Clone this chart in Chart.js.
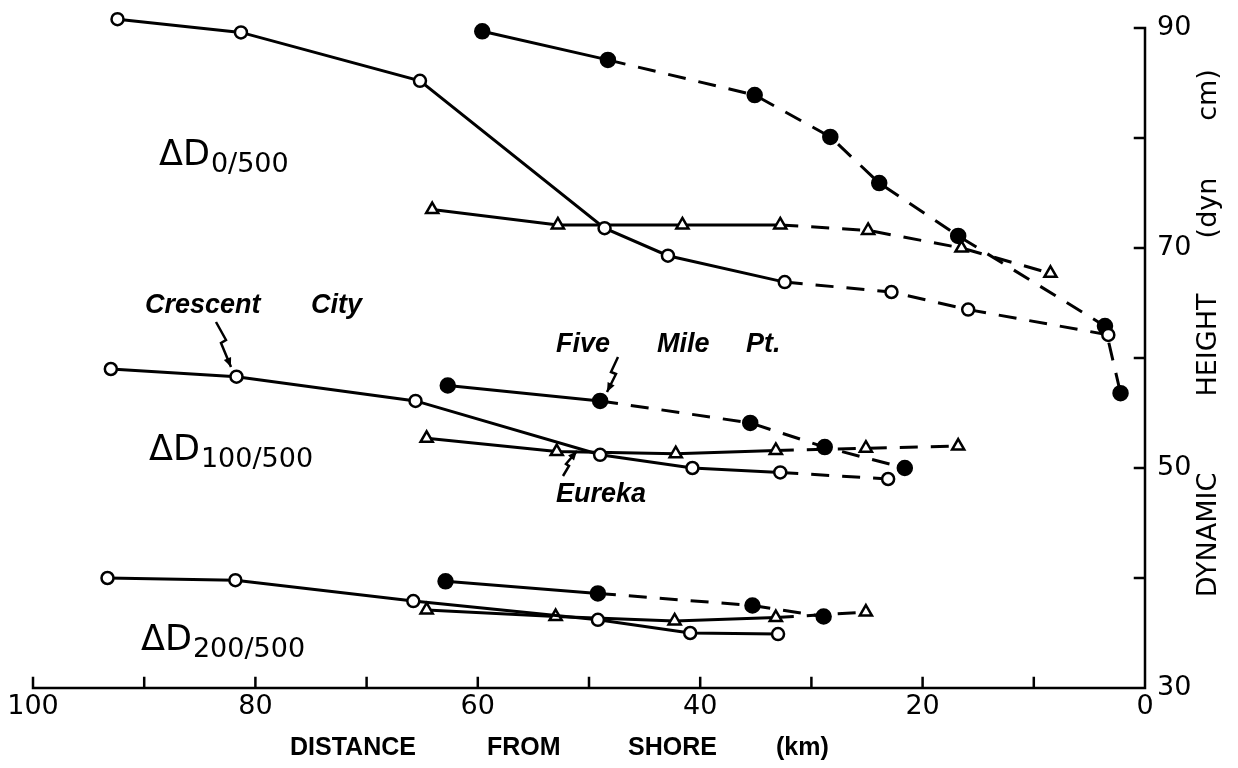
<!DOCTYPE html>
<html>
<head>
<meta charset="utf-8">
<script src="https://cdn.jsdelivr.net/npm/chart.js@4.4.1/dist/chart.umd.min.js"></script>
<style>
  body { margin: 0; background: #fff; }
  #wrap { width: 1238px; height: 768px; }
</style>
</head>
<body>
<div id="wrap"><canvas id="chart"></canvas></div>
<script>
// distance from shore (km) / dynamic height (dyn cm)
// *Dash = index of the first segment that is drawn dashed

// ΔD 0/500
const d0CrescentKm = [92.4, 81.3, 65.2, 48.6, 42.9, 32.4, 22.8, 15.9, 3.3];
const d0CrescentH = [90.8, 89.6, 85.2, 71.8, 69.3, 66.9, 66.0, 64.4, 62.1];
const d0CrescentDash = 5;
const d0FiveMileKm = [59.6, 48.3, 35.1, 28.3, 23.9, 16.8, 3.6, 2.2];
const d0FiveMileH = [89.7, 87.1, 83.9, 80.1, 75.9, 71.1, 62.9, 56.8];
const d0FiveMileDash = 1;
const d0EurekaKm = [64.1, 52.8, 41.6, 32.8, 24.9, 16.5, 8.5];
const d0EurekaH = [73.5, 72.1, 72.1, 72.1, 71.6, 70.0, 67.7];
const d0EurekaDash = 3;

// ΔD 100/500
const d100CrescentKm = [93.0, 81.7, 65.6, 49.0, 40.7, 32.8, 23.1];
const d100CrescentH = [59.0, 58.3, 56.1, 51.2, 50.0, 49.6, 49.0];
const d100CrescentDash = 5;
const d100FiveMileKm = [62.7, 49.0, 35.5, 28.8, 21.6];
const d100FiveMileH = [57.5, 56.1, 54.1, 51.9, 50.0];
const d100FiveMileDash = 1;
const d100EurekaKm = [64.6, 52.9, 42.2, 33.2, 25.1, 16.8];
const d100EurekaH = [52.7, 51.5, 51.3, 51.6, 51.8, 52.0];
const d100EurekaDash = 3;

// ΔD 200/500
const d200CrescentKm = [93.3, 81.8, 65.8, 49.2, 40.9, 33.0];
const d200CrescentH = [40.0, 39.8, 37.9, 36.2, 35.0, 34.9];
const d200CrescentDash = 99;
const d200FiveMileKm = [62.9, 49.2, 35.3, 28.9];
const d200FiveMileH = [39.7, 38.6, 37.5, 36.5];
const d200FiveMileDash = 1;
const d200EurekaKm = [64.6, 53.0, 42.3, 33.2, 25.1];
const d200EurekaH = [37.1, 36.5, 36.1, 36.4, 36.9];
const d200EurekaDash = 3;

const xTicks = [0, 10, 20, 30, 40, 50, 60, 70, 80, 90, 100];
const yTicks = [30, 40, 50, 60, 70, 80, 90];

function series(km, h, dashFrom, kind) {
  const pts = km.map((x, i) => ({ x: x, y: h[i] }));
  const filled = kind === "five";
  return {
    data: pts,
    showLine: true,
    clip: false,
    borderColor: "#000",
    borderWidth: 3,
    pointStyle: kind === "eureka" ? "triangle" : "circle",
    pointRadius: filled ? 7 : (kind === "eureka" ? 7 : 6),
    pointBorderWidth: 2.5,
    pointBorderColor: "#000",
    pointBackgroundColor: filled ? "#000" : "#fff",
    segment: {
      borderDash: c => (c.p0DataIndex >= dashFrom ? [18, 13] : undefined)
    }
  };
}

// axis lines (30–90, 0–100 only) and inward tick marks
const axesFrame = {
  id: "axesFrame",
  afterDraw(chart) {
    const { ctx, scales: { x, y } } = chart;
    const x0 = x.getPixelForValue(0), x100 = x.getPixelForValue(100);
    const y30 = y.getPixelForValue(30), y90 = y.getPixelForValue(90);
    ctx.save();
    ctx.strokeStyle = "#000";
    ctx.lineWidth = 2.5;
    ctx.lineCap = "square";
    ctx.beginPath();
    ctx.moveTo(x100, y30);
    ctx.lineTo(x0, y30);
    ctx.lineTo(x0, y90);
    xTicks.forEach(v => {
      const px = x.getPixelForValue(v);
      ctx.moveTo(px, y30);
      ctx.lineTo(px, y30 - 10);
    });
    yTicks.forEach(v => {
      const py = y.getPixelForValue(v);
      ctx.moveTo(x0, py);
      ctx.lineTo(x0 - 10, py);
    });
    ctx.stroke();
    ctx.restore();
  }
};

function deltaLabel(ctx, x, y, sub) {
  ctx.font = "35px 'DejaVu Sans'";
  ctx.fillText("\u0394D", x, y);
  const w = ctx.measureText("\u0394D").width;
  ctx.font = "27px 'DejaVu Sans'";
  ctx.fillText(sub, x + w + 1, y + 7);
}

function zigArrow(ctx, pts) {
  ctx.beginPath();
  ctx.moveTo(pts[0][0], pts[0][1]);
  for (let i = 1; i < pts.length; i++) ctx.lineTo(pts[i][0], pts[i][1]);
  ctx.stroke();
  const a = pts[pts.length - 2], b = pts[pts.length - 1];
  const ang = Math.atan2(b[1] - a[1], b[0] - a[0]);
  ctx.beginPath();
  ctx.moveTo(b[0], b[1]);
  ctx.lineTo(b[0] - 10 * Math.cos(ang - 0.4), b[1] - 10 * Math.sin(ang - 0.4));
  ctx.lineTo(b[0] - 10 * Math.cos(ang + 0.4), b[1] - 10 * Math.sin(ang + 0.4));
  ctx.closePath();
  ctx.fill();
}

const labels = {
  id: "labels",
  afterDraw(chart) {
    const ctx = chart.ctx;
    ctx.save();
    ctx.fillStyle = "#000";
    ctx.strokeStyle = "#000";
    ctx.lineWidth = 2.5;
    ctx.textBaseline = "alphabetic";
    ctx.textAlign = "left";

    deltaLabel(ctx, 159, 165, "0/500");
    deltaLabel(ctx, 149, 460, "100/500");
    deltaLabel(ctx, 141, 650, "200/500");

    ctx.font = "italic bold 27px 'Liberation Sans'";
    ctx.fillText("Crescent", 145, 313);
    ctx.fillText("City", 311, 313);
    ctx.fillText("Five", 556, 352);
    ctx.fillText("Mile", 657, 352);
    ctx.fillText("Pt.", 746, 352);
    ctx.fillText("Eureka", 556, 502);

    zigArrow(ctx, [[216, 322], [226, 340], [221, 343], [231, 367]]);
    zigArrow(ctx, [[618, 357], [611, 372], [616, 374], [607, 392]]);
    zigArrow(ctx, [[563, 476], [569, 466], [566, 464], [577, 451]]);

    // axis titles
    ctx.font = "bold 25px 'Liberation Sans'";
    ctx.textBaseline = "middle";
    ctx.fillText("DISTANCE", 290, 748);
    ctx.fillText("FROM", 487, 748);
    ctx.fillText("SHORE", 628, 748);
    ctx.fillText("(km)", 776, 748);

    ctx.translate(1209, 0);
    ctx.rotate(-Math.PI / 2);
    ctx.font = "27px 'DejaVu Sans'";
    ctx.textAlign = "center";
    ctx.fillText("DYNAMIC", -535, 0);
    ctx.fillText("HEIGHT", -345, 0);
    ctx.fillText("(dyn", -208, 0);
    ctx.fillText("cm)", -95, 0);
    ctx.restore();
  }
};

new Chart(document.getElementById("chart"), {
  type: "scatter",
  data: {
    datasets: [
      series(d0CrescentKm, d0CrescentH, d0CrescentDash, "crescent"),
      series(d0FiveMileKm, d0FiveMileH, d0FiveMileDash, "five"),
      series(d0EurekaKm, d0EurekaH, d0EurekaDash, "eureka"),
      series(d100CrescentKm, d100CrescentH, d100CrescentDash, "crescent"),
      series(d100FiveMileKm, d100FiveMileH, d100FiveMileDash, "five"),
      series(d100EurekaKm, d100EurekaH, d100EurekaDash, "eureka"),
      series(d200CrescentKm, d200CrescentH, d200CrescentDash, "crescent"),
      series(d200FiveMileKm, d200FiveMileH, d200FiveMileDash, "five"),
      series(d200EurekaKm, d200EurekaH, d200EurekaDash, "eureka")
    ]
  },
  options: {
    responsive: true,
    maintainAspectRatio: false,
    animation: false,
    // y runs to 91.5 so the top open circle stays inside the plot area; 90 sits at y=28
    layout: { padding: { left: 33, top: 11.5, right: 0, bottom: 0 } },
    plugins: { legend: { display: false }, tooltip: { enabled: false } },
    scales: {
      x: {
        type: "linear",
        reverse: true,
        min: 0,
        max: 100,
        grid: { display: false, drawTicks: false },
        border: { display: false },
        ticks: {
          stepSize: 10,
          autoSkip: false,
          maxRotation: 0,
          padding: 3,
          color: "#000",
          font: { family: "'DejaVu Sans'", size: 27 },
          callback: v => (v % 20 === 0 ? String(v) : "")
        },
        afterFit: s => { s.height = 80; s.paddingLeft = 0; s.paddingRight = 0; }
      },
      y: {
        type: "linear",
        position: "right",
        min: 30,
        max: 91.5,
        grid: { display: false, drawTicks: false },
        border: { display: false },
        ticks: {
          stepSize: 10,
          autoSkip: false,
          includeBounds: false,
          padding: 12,
          color: "#000",
          font: { family: "'DejaVu Sans'", size: 27 },
          callback: v => (v % 20 === 10 ? String(v) : "")
        },
        afterFit: s => { s.width = 93; s.paddingTop = 0; s.paddingBottom = 0; }
      }
    }
  },
  plugins: [axesFrame, labels]
});
</script>
</body>
</html>
